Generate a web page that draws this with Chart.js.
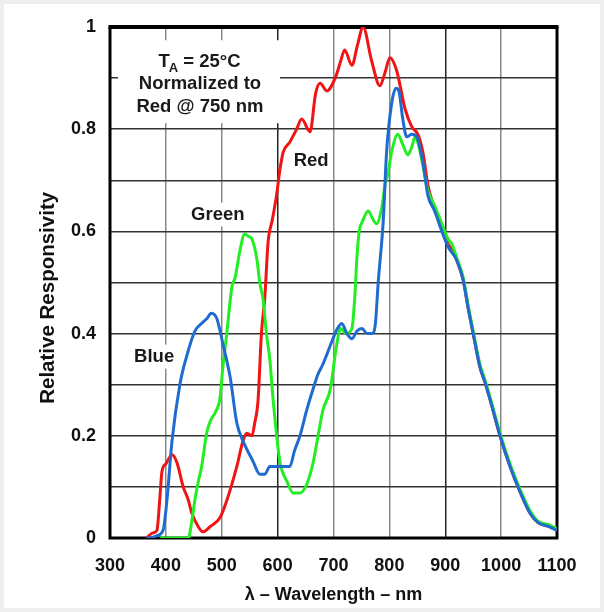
<!DOCTYPE html>
<html>
<head>
<meta charset="utf-8">
<script src="https://cdn.jsdelivr.net/npm/chart.js@4.4.1/dist/chart.umd.min.js"></script>
<style>
  html, body { margin: 0; padding: 0; background: #fff; }
  canvas { display: block; }
</style>
</head>
<body>
<canvas id="chart" width="604" height="612"></canvas>
<script>
// wavelength (nm) and relative responsivity
const redNm = [365,377,384,389,393,400,411,420,431,440,446,458,466,479,497,511,527,538,545,554,559,565,571,577,583,590,598,604,610,622,634,643,658,668,676,688,703,712,720,733,743,753,768,783,792,801,813,828,840,851,860,869,881,894,905,912,920,932,941,950,962,971,983,998,1016,1034,1051,1066,1087,1100];
const redVal = [0,0.01,0.015,0.075,0.13,0.145,0.163,0.147,0.10,0.075,0.05,0.022,0.012,0.022,0.04,0.08,0.14,0.19,0.205,0.20,0.225,0.27,0.40,0.47,0.58,0.62,0.67,0.72,0.755,0.775,0.80,0.82,0.795,0.87,0.89,0.875,0.90,0.93,0.955,0.925,0.965,1.0,0.935,0.885,0.91,0.94,0.915,0.84,0.805,0.79,0.755,0.69,0.645,0.605,0.575,0.565,0.545,0.505,0.45,0.40,0.335,0.305,0.26,0.20,0.14,0.09,0.05,0.03,0.022,0.015];

const greenNm = [390,400,420,440,446,452,458,464,473,480,488,497,502,509,518,524,533,541,548,554,563,568,574,580,586,592,604,617,628,640,650,657,664,670,681,694,706,713,722,733,738,742,746,752,762,770,777,787,792,797,804,815,824,833,840,846,852,858,869,881,894,905,912,920,932,941,950,962,971,983,998,1016,1034,1051,1066,1087,1100];
const greenVal = [0,0,0,0,0.03,0.075,0.11,0.14,0.205,0.23,0.245,0.275,0.335,0.40,0.49,0.51,0.565,0.595,0.59,0.585,0.545,0.50,0.467,0.40,0.35,0.27,0.15,0.11,0.088,0.088,0.10,0.12,0.15,0.185,0.25,0.29,0.38,0.41,0.40,0.41,0.47,0.55,0.60,0.62,0.64,0.625,0.615,0.65,0.69,0.71,0.755,0.79,0.77,0.75,0.765,0.785,0.77,0.74,0.68,0.65,0.615,0.585,0.575,0.55,0.51,0.455,0.405,0.34,0.31,0.265,0.205,0.145,0.095,0.055,0.033,0.025,0.018];

const blueNm = [365,372,385,395,402,411,425,437,452,464,474,481,491,502,515,527,538,556,568,577,586,605,622,630,640,652,663,672,681,699,707,715,724,733,742,751,760,769,775,780,789,795,804,812,817,824,831,840,849,860,869,881,894,905,920,932,941,950,962,971,983,998,1016,1034,1051,1066,1087,1100];
const blueVal = [0,0,0.005,0.015,0.075,0.19,0.30,0.355,0.405,0.42,0.43,0.44,0.43,0.38,0.315,0.225,0.19,0.15,0.125,0.125,0.14,0.14,0.14,0.17,0.20,0.25,0.29,0.32,0.34,0.39,0.41,0.42,0.40,0.39,0.405,0.41,0.40,0.40,0.42,0.50,0.62,0.755,0.85,0.88,0.875,0.82,0.785,0.79,0.785,0.735,0.67,0.64,0.60,0.57,0.545,0.505,0.45,0.40,0.335,0.305,0.26,0.20,0.14,0.09,0.05,0.03,0.022,0.015];

const xTicks = [300, 1100, 100];   // min, max, step
const yTicks = [0, 1, 0.1];

// curve labels, anchored in data units
const curveLabels = [
  { text: 'Red', nm: 660, v: 0.737 },
  { text: 'Green', nm: 493, v: 0.633 },
  { text: 'Blue', nm: 379, v: 0.355 }
];
const noteLines = ['Normalized to', 'Red @ 750 nm'];
const yTitle = 'Relative Responsivity';

const FONT = '"Liberation Sans", Arial, sans-serif';

const toPoints = (nm, val) => nm.map((n, i) => ({ x: n, y: val[i] }));

const annotations = {
  id: 'annotations',
  beforeDraw(chart) {
    const { ctx, width, height } = chart;
    ctx.save();
    ctx.fillStyle = '#efefef';
    ctx.fillRect(0, 0, width, height);
    ctx.fillStyle = '#fff';
    ctx.fillRect(4, 4, width - 8, height - 8);
    ctx.restore();
  },
  beforeDatasetsDraw(chart) {
    const { ctx, chartArea: a, scales: { x, y } } = chart;
    const big = 'bold 18.5px ' + FONT;
    const small = 'bold 13px ' + FONT;
    ctx.save();

    // y axis title, sits a little below the axis centre like the original
    ctx.save();
    ctx.translate(48, y.getPixelForValue(0.47));
    ctx.rotate(-Math.PI / 2);
    ctx.font = 'bold 20.5px ' + FONT;
    ctx.fillStyle = '#111';
    ctx.textAlign = 'center';
    ctx.textBaseline = 'middle';
    ctx.fillText(yTitle, 0, 0);
    ctx.restore();

    ctx.font = big;
    ctx.textAlign = 'center';
    ctx.textBaseline = 'middle';

    // note box top left
    const cx = x.getPixelForValue(461);
    const y0 = y.getPixelForValue(0.931);
    const y1 = y.getPixelForValue(0.888);
    const y2 = y.getPixelForValue(0.843);
    ctx.fillStyle = '#fff';
    ctx.fillRect(a.left + 8, y0 - 22, 162, y2 - y0 + 38);
    ctx.fillStyle = '#1a1a1a';
    // T_A = 25°C with subscript
    const tW = ctx.measureText('T').width;
    ctx.font = small;
    const aW = ctx.measureText('A').width;
    ctx.font = big;
    const rest = ' = 25°C';
    const rW = ctx.measureText(rest).width;
    const sx = cx - (tW + aW + rW) / 2;
    ctx.textAlign = 'left';
    ctx.fillText('T', sx, y0);
    ctx.font = small;
    ctx.fillText('A', sx + tW - 1, y0 + 6);
    ctx.font = big;
    ctx.fillText(rest, sx + tW + aW - 1, y0);
    ctx.textAlign = 'center';
    ctx.fillText(noteLines[0], cx, y1);
    ctx.fillText(noteLines[1], cx, y2);

    curveLabels.forEach(l => {
      const px = x.getPixelForValue(l.nm);
      const py = y.getPixelForValue(l.v);
      const w = ctx.measureText(l.text).width;
      ctx.fillStyle = '#fff';
      ctx.fillRect(px - w / 2 - 4, py - 12, w + 8, 24);
      ctx.fillStyle = '#1a1a1a';
      ctx.fillText(l.text, px, py);
    });

    // frame
    ctx.strokeStyle = '#000';
    ctx.lineWidth = 3;
    ctx.beginPath();
    ctx.moveTo(a.left, a.top);
    ctx.lineTo(a.left, a.bottom);
    ctx.lineTo(a.right, a.bottom);
    ctx.lineTo(a.right, a.top);
    ctx.stroke();
    ctx.lineWidth = 4;
    ctx.beginPath();
    ctx.moveTo(a.left - 1.5, a.top);
    ctx.lineTo(a.right + 1.5, a.top);
    ctx.stroke();
    ctx.restore();
  }
};

const line = (label, nm, val, color, order) => ({
  label,
  data: toPoints(nm, val),
  borderColor: color,
  borderWidth: 3,
  pointRadius: 0,
  cubicInterpolationMode: 'monotone',
  order
});

new Chart(document.getElementById('chart'), {
  type: 'line',
  data: {
    datasets: [
      line('Red', redNm, redVal, '#f01414', 3),
      line('Green', greenNm, greenVal, '#22ee22', 2),
      line('Blue', blueNm, blueVal, '#1f6bd0', 1)
    ]
  },
  options: {
    responsive: false,
    animation: false,
    layout: { padding: { left: 0, right: 47, top: 27, bottom: 0 } },
    plugins: { legend: { display: false }, tooltip: { enabled: false } },
    scales: {
      x: {
        type: 'linear',
        min: xTicks[0],
        max: xTicks[1],
        ticks: {
          stepSize: xTicks[2],
          padding: 17,
          color: '#111',
          font: { family: FONT, size: 18, weight: 'bold' },
          callback: v => String(v)
        },
        grid: {
          drawTicks: false,
          lineWidth: 1.5,
          color: c => (c.tick && (c.tick.value === 600 || c.tick.value === 900)) ? '#222' : '#888'
        },
        border: { display: false },
        title: {
          display: true,
          text: 'λ – Wavelength – nm',
          color: '#111',
          padding: { top: 0, bottom: 6 },
          font: { family: FONT, size: 18, weight: 'bold' }
        },
        afterFit: s => { s.height = 74; }
      },
      y: {
        min: yTicks[0],
        max: yTicks[1],
        ticks: {
          stepSize: yTicks[2],
          padding: 14,
          color: '#111',
          font: { family: FONT, size: 18, weight: 'bold' },
          callback: v => {
            const k = Math.round(v * 10);
            return k % 2 ? '' : String(k / 10);
          }
        },
        grid: { drawTicks: false, lineWidth: 1.5, color: '#333' },
        border: { display: false },
        afterFit: s => { s.width = 110; }
      }
    }
  },
  plugins: [annotations]
});
</script>
</body>
</html>
